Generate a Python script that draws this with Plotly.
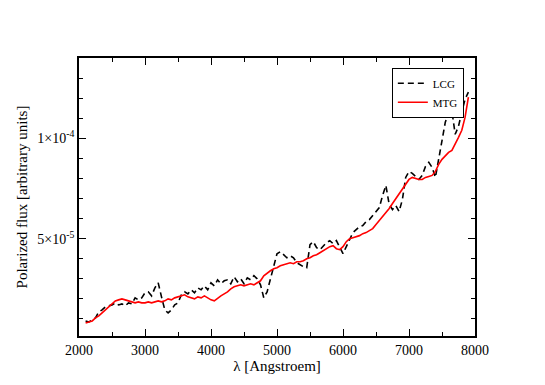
import numpy as np
import plotly.graph_objects as go

# wavelength grid [Angstroem]
lam = np.arange(2100, 7901, 50)

# LCG polarized flux (units of 1e-5)
lcg = [
    0.90, 0.85, 0.95, 1.05, 1.35, 1.45, 1.60, 1.65, 1.70, 1.80,
    1.70, 1.75, 1.65, 1.80, 1.75, 2.05, 1.95, 2.05, 2.30, 2.35,
    2.15, 2.55, 2.80, 2.10, 1.45, 1.30, 1.45, 1.70, 1.80, 2.20,
    2.35, 2.25, 2.45, 2.30, 2.55, 2.45, 2.65, 2.45, 2.80, 2.65,
    2.95, 2.75, 2.90, 2.95, 2.75, 3.10, 2.85, 3.00, 2.75, 3.05,
    2.95, 3.15, 3.00, 2.70, 2.05, 2.35, 2.95, 3.65, 4.25, 4.35,
    4.20, 4.05, 4.15, 4.05, 3.80, 3.70, 3.60, 3.55, 4.70, 4.85,
    4.55, 4.45, 4.65, 4.80, 4.90, 4.75, 4.90, 4.55, 4.25, 4.60,
    4.95, 5.30, 5.45, 5.60, 5.65, 5.85, 5.95, 6.15, 6.35, 6.55,
    7.15, 7.65, 6.70, 6.45, 6.65, 6.35, 6.95, 8.05, 8.35, 8.25,
    8.10, 7.95, 8.15, 8.60, 8.80, 8.55, 8.05, 8.95, 9.70, 10.80,
    11.30, 11.35, 10.20, 10.60, 11.30, 11.95, 12.30,
]

# MTG polarized flux (units of 1e-5)
mtg = [
    0.80, 0.85, 0.90, 1.05, 1.15, 1.30, 1.45, 1.60, 1.75, 1.90,
    1.95, 2.00, 1.95, 1.90, 1.85, 1.80, 1.85, 1.80, 1.80, 1.85,
    1.80, 1.85, 1.90, 1.85, 1.90, 2.00, 1.95, 2.05, 2.10, 2.15,
    2.20, 2.10, 2.05, 2.00, 2.10, 2.05, 2.15, 2.05, 1.95, 1.90,
    2.05, 2.15, 2.25, 2.35, 2.50, 2.60, 2.65, 2.70, 2.65, 2.70,
    2.75, 2.70, 2.80, 2.90, 3.15, 3.30, 3.40, 3.50, 3.55, 3.65,
    3.70, 3.75, 3.80, 3.75, 3.85, 3.85, 3.90, 4.00, 4.05, 4.15,
    4.20, 4.30, 4.40, 4.50, 4.60, 4.65, 4.50, 4.45, 4.60, 4.85,
    5.00, 5.05, 5.10, 5.15, 5.25, 5.30, 5.40, 5.50, 5.70, 5.90,
    6.05, 6.25, 6.50, 6.75, 7.00, 7.25, 7.50, 7.75, 7.95, 8.05,
    8.00, 7.95, 7.95, 8.05, 8.10, 8.15, 8.35, 8.70, 8.95, 9.15,
    9.30, 9.40, 9.70, 10.05, 10.40, 11.05, 12.05,
]

SERIF = "Liberation Serif"

fig = go.Figure()
fig.add_trace(go.Scatter(
    x=lam, y=np.array(lcg) * 1e-5,
    mode="lines", name="LCG",
    line=dict(color="black", width=1.6, dash="6px,4px"),
))
fig.add_trace(go.Scatter(
    x=lam, y=np.array(mtg) * 1e-5,
    mode="lines", name="MTG",
    line=dict(color="red", width=1.6),
))

axis_common = dict(
    showline=True, linecolor="black", linewidth=1.5, mirror="allticks",
    ticks="inside", ticklen=7, tickwidth=1, tickcolor="black",
    showgrid=False, zeroline=False, automargin=False,
    tickfont=dict(family=SERIF, size=14, color="black"),
)

fig.update_xaxes(
    range=[2000, 8000], tickmode="linear", tick0=2000, dtick=1000,
    minor=dict(ticks="inside", ticklen=4, dtick=500, tick0=2000, tickcolor="black"),
    title=dict(text="λ [Angstroem]", font=dict(family=SERIF, size=15, color="black"), standoff=2),
    **axis_common,
)
fig.update_yaxes(
    range=[1.5e-6, 1.4e-4],
    tickmode="array", tickvals=[5e-5, 1e-4],
    ticktext=["5×10<sup>-5</sup>", "1×10<sup>-4</sup>"],
    minor=dict(ticks="inside", ticklen=4, tickmode="array",
               tickvals=[1e-5, 2e-5, 3e-5, 4e-5, 6e-5, 7e-5, 8e-5, 9e-5,
                         1.1e-4, 1.2e-4, 1.3e-4], tickcolor="black"),
    title=dict(text="Polarized flux [arbitrary units]", font=dict(family=SERIF, size=15, color="black"), standoff=6),
    **axis_common,
)

# page body has an 8px margin, so the figure is shrunk to fit the window
fig.update_layout(
    width=537, height=377,
    margin=dict(l=71, r=70, t=50, b=49),
    paper_bgcolor="white", plot_bgcolor="white",
    legend=dict(
        x=0.79, y=0.965, xanchor="left", yanchor="top",
        bordercolor="black", borderwidth=1, bgcolor="white",
        font=dict(family=SERIF, size=11, color="black"),
        itemwidth=30, tracegroupgap=0,
    ),
)

fig.write_html("out.html")
